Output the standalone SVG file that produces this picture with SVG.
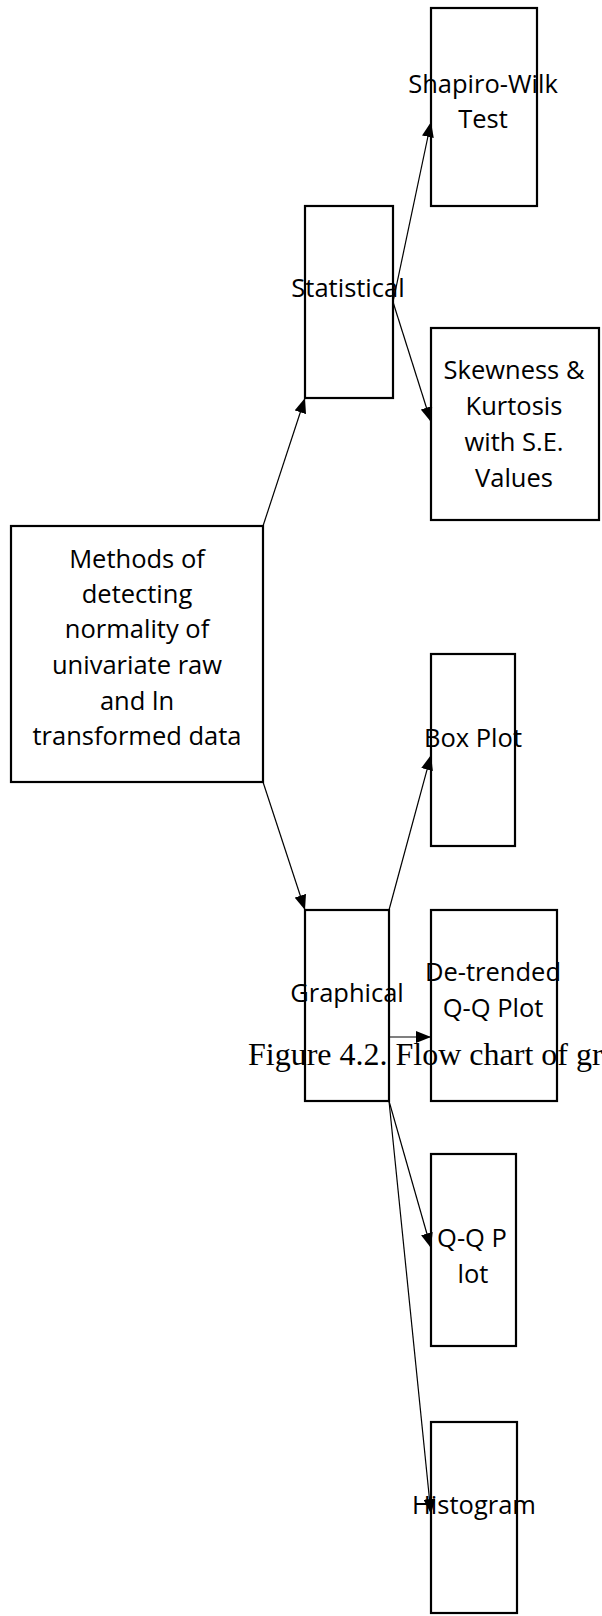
<svg xmlns="http://www.w3.org/2000/svg" width="602" height="1616" viewBox="0 0 602 1616">
<style>
.t{font-family:"Open Sans","Noto Sans",sans-serif;font-size:25.5px;fill:#000;text-anchor:middle}
.b{fill:none;stroke:#000;stroke-width:2.2}
.c{fill:none;stroke:#000;stroke-width:1.2}
.cap{font-family:"Liberation Serif","Times New Roman",serif;font-size:32px;fill:#000}
</style>
<defs>
<marker id="ah" viewBox="0 0 15 12" refX="15" refY="6" markerWidth="15" markerHeight="12" markerUnits="userSpaceOnUse" orient="auto">
<path d="M0,0 L15,6 L0,12 Z" fill="#000"/>
</marker>
<clipPath id="qqclip"><rect x="400" y="1150" width="160" height="133"/></clipPath>
</defs>
<rect width="602" height="1616" fill="#fff"/>
<text class="cap" x="248" y="1065">Figure 4.2. Flow chart of gr</text>
<g id="main">
<text class="t" x="137" y="568">Methods of</text>
<text class="t" x="137" y="603">detecting</text>
<text class="t" x="137" y="638">normality of</text>
<text class="t" x="137" y="674">univariate raw</text>
<text class="t" x="137" y="710">and ln</text>
<text class="t" x="137" y="745">transformed data</text>
<rect class="b" x="11" y="526" width="252" height="256"/>
</g>
<g id="statistical">
<text class="t" x="348" y="297">Statistical</text>
<rect class="b" x="305" y="206" width="88" height="192"/>
</g>
<g id="shapiro">
<text class="t" x="483" y="93">Shapiro-Wilk</text>
<text class="t" x="483" y="128">Test</text>
<rect class="b" x="431" y="8" width="106" height="198"/>
</g>
<g id="skewness">
<text class="t" x="514" y="379">Skewness &amp;</text>
<text class="t" x="514" y="415">Kurtosis</text>
<text class="t" x="514" y="451">with S.E.</text>
<text class="t" x="514" y="487">Values</text>
<rect class="b" x="431" y="328" width="168" height="192"/>
</g>
<g id="graphical">
<text class="t" x="347" y="1002">Graphical</text>
<rect class="b" x="305" y="910" width="84" height="191"/>
</g>
<g id="boxplot">
<text class="t" x="473" y="747">Box Plot</text>
<rect class="b" x="431" y="654" width="84" height="192"/>
</g>
<g id="detrended">
<text class="t" x="493" y="981">De-trended</text>
<text class="t" x="493" y="1017">Q-Q Plot</text>
<rect class="b" x="431" y="910" width="126" height="191"/>
</g>
<g id="qqplot">
<g clip-path="url(#qqclip)">
<text class="t" x="472" y="1247">Q-Q P</text>
<text class="t" x="473" y="1283">lot</text>
</g>
<rect class="b" x="431" y="1154" width="85" height="192"/>
</g>
<g id="histogram">
<text class="t" x="474" y="1514">Histogram</text>
<rect class="b" x="431" y="1422" width="86" height="191"/>
</g>
<g id="connectors">
<line class="c" x1="263" y1="526" x2="305" y2="398" marker-end="url(#ah)"/>
<line class="c" x1="263" y1="782" x2="305" y2="910" marker-end="url(#ah)"/>
<line class="c" x1="393" y1="302" x2="431" y2="122" marker-end="url(#ah)"/>
<line class="c" x1="393" y1="302" x2="431" y2="422" marker-end="url(#ah)"/>
<line class="c" x1="389" y1="910" x2="431" y2="755" marker-end="url(#ah)"/>
<line class="c" x1="389" y1="1037" x2="431" y2="1037" marker-end="url(#ah)"/>
<line class="c" x1="389" y1="1101" x2="431" y2="1248" marker-end="url(#ah)"/>
<line class="c" x1="389" y1="1101" x2="431" y2="1514" marker-end="url(#ah)"/>
</g>
</svg>
